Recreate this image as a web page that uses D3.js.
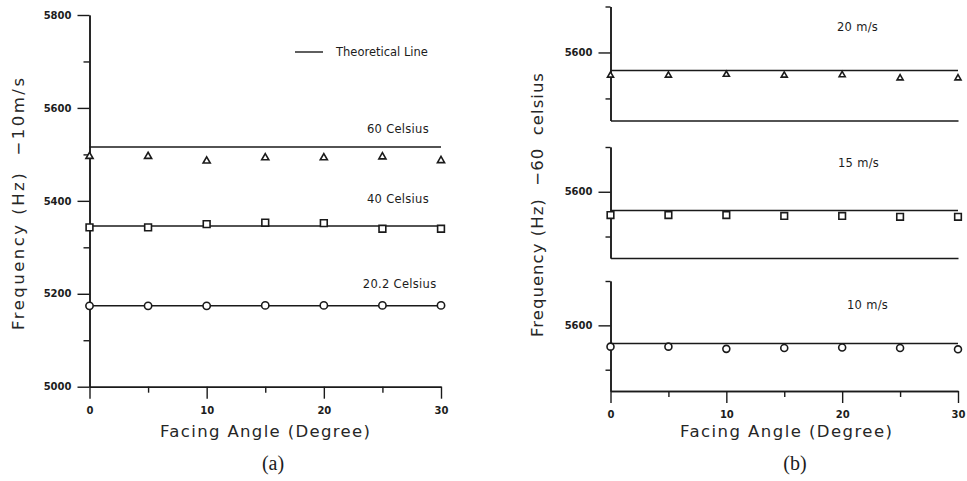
<!DOCTYPE html>
<html><head><meta charset="utf-8">
<script src="https://cdn.jsdelivr.net/npm/d3@7"></script>
<style>
html,body{margin:0;padding:0;background:#fff;}
svg{display:block;}
text{font-family:"DejaVu Sans",sans-serif;fill:#1c1c1c;}
</style></head><body>
<script>
// ---- shared angle axis ----
const angles = [0, 5, 10, 15, 20, 25, 30];
const xTicksMajor = [0, 10, 20, 30];
const xTicksMinor = [5, 15, 25];
const xTitle = "Facing Angle (Degree)";
const legendLabel = "Theoretical Line";

// ---- (a): three air temperatures at 10 m/s ----
const tempLabels = ["60 Celsius", "40 Celsius", "20.2 Celsius"];
const tempTheory = [5516, 5346, 5174];
const temp60 = [5498, 5498, 5488, 5495, 5495, 5497, 5489];
const temp40 = [5343, 5343, 5350, 5353, 5352, 5340, 5340];
const temp20 = [5174, 5174, 5174, 5175, 5175, 5175, 5175];
const yTicksMajorA = [5000, 5200, 5400, 5600, 5800];
const yTicksMinorA = [5100, 5300, 5500, 5700];
const yTitleA = "Frequency (Hz)\u00a0\u00a0\u221210m/s";

// ---- (b): three wind speeds at 60 celsius ----
const speedLabels = ["20 m/s", "15 m/s", "10 m/s"];
const speedTheory = [5561, 5558, 5559];
const speed20 = [5552, 5552, 5554, 5552, 5553, 5546, 5546];
const speed15 = [5548, 5548, 5548, 5546, 5546, 5544, 5544];
const speed10 = [5552, 5552, 5547, 5549, 5550, 5549, 5546];
const yTicksMajorB = [5600];
const yTicksMinorB = [5500, 5700];
const yTitleB = "Frequency (Hz)\u00a0\u00a0\u221260\u00a0\u00a0celsius";

const W = 967, H = 481;
const ink = "#1a1a1a";

const svg = d3.select("body").append("svg").attr("width", W).attr("height", H);
svg.append("rect").attr("width", W).attr("height", H).attr("fill", "#fff");

// open triangle centred on its bounding box
const triangleUp = {
  draw(ctx, size) {
    const s = Math.sqrt(size * 4 / Math.sqrt(3));
    const h = s * Math.sqrt(3) / 2;
    ctx.moveTo(0, -h / 2);
    ctx.lineTo(s / 2, h / 2);
    ctx.lineTo(-s / 2, h / 2);
    ctx.closePath();
  }
};

function styleAxis(g) {
  g.selectAll(".domain").attr("stroke", ink).attr("stroke-width", 1.5);
  g.selectAll(".tick line").attr("stroke", ink).attr("stroke-width", 1.4);
  g.selectAll(".tick text")
    .style("font-family", "DejaVu Sans, sans-serif")
    .attr("font-weight", "bold")
    .attr("font-size", 10)
    .attr("fill", ink);
}

function drawSeries(g, x, y, theory, values, symType, symSize) {
  const line = d3.line().x(d => x(d[0])).y(d => y(d[1]));
  g.append("path")
    .datum(angles.map(a => [a, theory]))
    .attr("d", line)
    .attr("fill", "none")
    .attr("stroke", ink)
    .attr("stroke-width", 1.5);
  const sym = d3.symbol().type(symType).size(symSize);
  g.selectAll(null)
    .data(angles.map((a, i) => [a, values[i]]))
    .join("path")
    .attr("d", sym)
    .attr("transform", d => `translate(${x(d[0])},${y(d[1])})`)
    .attr("fill", "#fff")
    .attr("stroke", ink)
    .attr("stroke-width", 1.6);
}

function addXAxis(g, x, yPos, withTicks) {
  if (withTicks) {
    const minor = g.append("g").attr("transform", `translate(0,${yPos})`)
      .call(d3.axisBottom(x).tickValues(xTicksMinor).tickSize(6).tickSizeOuter(0).tickFormat(""));
    styleAxis(minor);
    const major = g.append("g").attr("transform", `translate(0,${yPos})`)
      .call(d3.axisBottom(x).tickValues(xTicksMajor).tickSize(12).tickSizeOuter(0).tickPadding(8));
    styleAxis(major);
  } else {
    const bare = g.append("g").attr("transform", `translate(0,${yPos})`)
      .call(d3.axisBottom(x).tickValues([]).tickSizeOuter(0));
    styleAxis(bare);
  }
}

function addYAxis(g, y, xPos, majors, minors, minorLen) {
  const minor = g.append("g").attr("transform", `translate(${xPos},0)`)
    .call(d3.axisLeft(y).tickValues(minors).tickSize(minorLen).tickSizeOuter(0).tickFormat(""));
  styleAxis(minor);
  const major = g.append("g").attr("transform", `translate(${xPos},0)`)
    .call(d3.axisLeft(y).tickValues(majors).tickSize(12).tickSizeOuter(0).tickPadding(6).tickFormat(d3.format("d")));
  styleAxis(major);
}

function addTitle(x, y, txt, len, rotate) {
  svg.append("text")
    .attr("transform", `translate(${x},${y})` + (rotate ? " rotate(-90)" : ""))
    .attr("text-anchor", "middle")
    .attr("dy", "0.35em")
    .attr("font-size", 16.5)
    .attr("textLength", len)
    .attr("lengthAdjust", "spacing")
    .style("fill", "#262626")
    .text(txt);
}

function addCaption(x, y, txt) {
  svg.append("text").attr("x", x).attr("y", y).attr("dy", "0.35em")
    .attr("text-anchor", "middle")
    .style("font-family", "'Liberation Serif', 'DejaVu Serif', serif")
    .attr("font-size", 20)
    .text(txt);
}

// ================= (a) =================
const gA = svg.append("g");
const xA = d3.scaleLinear().domain([0, 30]).range([89.5, 441]);
const yA = d3.scaleLinear().domain([5000, 5800]).range([386.7, 15]);

addYAxis(gA, yA, xA(0), yTicksMajorA, yTicksMinorA, 6);
addXAxis(gA, xA, yA(5000), true);

drawSeries(gA, xA, yA, tempTheory[0], temp60, triangleUp, 22);
drawSeries(gA, xA, yA, tempTheory[1], temp40, d3.symbolSquare, 46);
drawSeries(gA, xA, yA, tempTheory[2], temp20, d3.symbolCircle, 42);

const tempLabelPos = [[429, 129], [429, 199], [436.5, 283.5]];
tempLabels.forEach((t, i) => {
  gA.append("text")
    .attr("x", tempLabelPos[i][0]).attr("y", tempLabelPos[i][1])
    .attr("dy", "0.35em")
    .attr("text-anchor", "end")
    .attr("font-size", 11.5)
    .attr("letter-spacing", 0.3)
    .text(t);
});

// legend
gA.append("line").attr("x1", 295).attr("x2", 323).attr("y1", 52).attr("y2", 52)
  .attr("stroke", ink).attr("stroke-width", 1.4);
gA.append("text").attr("x", 336).attr("y", 52).attr("dy", "0.35em")
  .attr("font-size", 11.5).text(legendLabel);

addTitle(18, 204, yTitleA, 252, true);
addTitle(265, 431, xTitle, 210, false);
addCaption(273, 463, "(a)");

// ================= (b) =================
const gB = svg.append("g");
const xB = d3.scaleLinear().domain([0, 30]).range([610.5, 958]);
const panelsB = [
  { top: 6.5, bottom: 120.5, theory: speedTheory[0], values: speed20, sym: triangleUp, size: 16, label: speedLabels[0], lx: 837, ly: 27 },
  { top: 147, bottom: 258, theory: speedTheory[1], values: speed15, sym: d3.symbolSquare, size: 44, label: speedLabels[1], lx: 838, ly: 163 },
  { top: 281, bottom: 391, theory: speedTheory[2], values: speed10, sym: d3.symbolCircle, size: 38, label: speedLabels[2], lx: 847, ly: 305 }
];

panelsB.forEach((p, i) => {
  const g = gB.append("g");
  const y = d3.scaleLinear().domain([5452, 5700]).range([p.bottom, p.top]);
  addYAxis(g, y, xB(0), yTicksMajorB, yTicksMinorB, 5);
  addXAxis(g, xB, p.bottom, i === panelsB.length - 1);
  drawSeries(g, xB, y, p.theory, p.values, p.sym, p.size);
  g.append("text").attr("x", p.lx).attr("y", p.ly).attr("dy", "0.35em")
    .attr("font-size", 11.5).attr("letter-spacing", 0.3).text(p.label);
});

addTitle(537, 205, yTitleB, 264, true);
addTitle(786, 431, xTitle, 212, false);
addCaption(795, 463, "(b)");
</script>
</body></html>
